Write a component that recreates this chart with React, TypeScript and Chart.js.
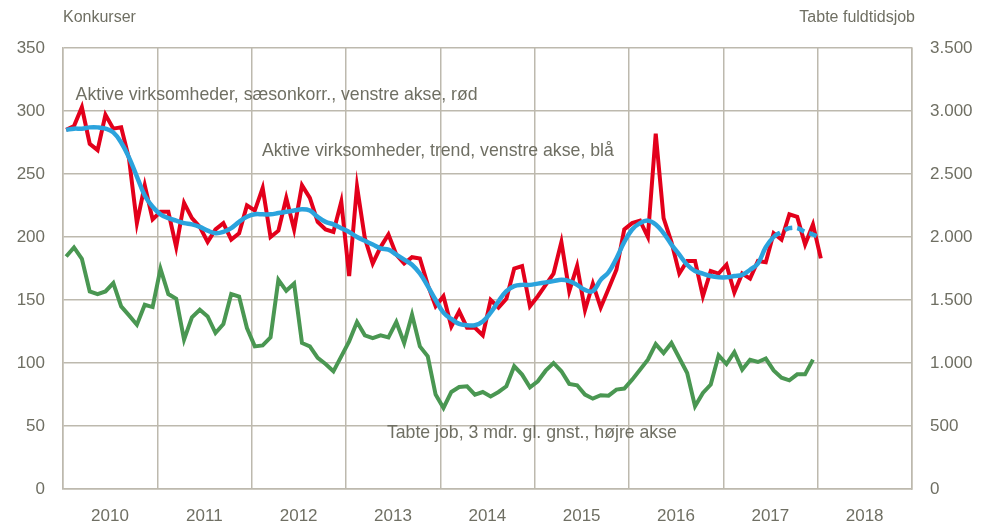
import React, { useEffect, useRef } from 'react';
import { Chart, registerables } from 'chart.js';

Chart.register(...registerables);

const years = ['2010', '2011', '2012', '2013', '2014', '2015', '2016', '2017', '2018'];
const leftTickValues = [0, 50, 100, 150, 200, 250, 300, 350];

// Aktive virksomheder, sæsonkorr. (monthly from Jan 2010)
const redValues = [
  285, 288, 303, 274, 269, 297, 286, 287, 262, 211, 241, 214,
  220, 220, 192, 227, 215, 208, 196, 206, 211, 198, 203, 225,
  221, 239, 200, 205, 231, 206, 241, 231, 212, 206, 204, 228,
  169, 240, 199, 179, 192, 202, 186, 179, 184, 183, 162, 145,
  153, 129, 141, 128, 128, 122, 150, 144, 151, 175, 177, 145,
  153, 162, 171, 196, 157, 177, 142, 163, 144, 159, 174, 206,
  211, 213, 200, 282, 215, 196, 171, 181, 181, 153, 173, 171,
  178, 156, 171, 167, 181, 180, 203, 198, 218, 216, 194, 210,
  183,
];

// Aktive virksomheder, trend
const blueValues = [
  285, 286, 286, 287, 287, 286, 283, 275, 263, 248, 233, 224,
  218, 215, 213, 211, 210, 208, 205, 203, 204, 207, 212, 216,
  218, 218, 218, 219, 220, 221, 222, 221, 216, 212, 210, 207,
  204, 200, 197, 194, 191, 190, 186, 182, 178, 171, 161, 150,
  140, 135, 131, 130, 130, 133, 140, 149, 157, 161, 162, 162,
  163, 164, 165, 166, 165, 162, 158, 157, 166, 172, 183, 196,
  206, 211, 213, 210, 203, 194, 186, 178, 173, 171, 169, 168,
  168, 169, 170, 174, 179, 192, 200, 204, 207, 207, 204, 202,
  199,
];
const trendDashFrom = 90;

// Tabte job, 3 mdr. gl. gnst. (right axis)
const greenValues = [
  1845, 1917, 1827, 1568, 1547, 1568, 1634, 1449, 1378, 1304, 1462, 1444,
  1748, 1547, 1510, 1185, 1362, 1423, 1370, 1238, 1309, 1547, 1528, 1277,
  1132, 1140, 1203, 1660, 1573, 1630, 1159, 1132, 1040, 992, 934, 1053,
  1172, 1325, 1220, 1198, 1220, 1203, 1325, 1159, 1384, 1132, 1053, 749,
  643, 770, 809, 815, 749, 770, 735, 770, 815, 974, 908, 807,
  855, 939, 1000, 934, 834, 823, 749, 717, 744, 741, 789, 797,
  868, 947, 1026, 1150, 1079, 1159, 1040, 921, 657, 763, 829, 1061,
  992, 1087, 947, 1026, 1008, 1035, 941, 883, 862, 910, 910, 1027,
];

const monthOffset = 0.4;
const TEXT = '#6f6f63';
const GRID = '#bdb9ae';
const FONT = '"Liberation Sans", Arial, sans-serif';

const toPoints = (vals: number[]) => vals.map((v, i) => ({ x: i + monthOffset, y: v }));
const fmtThousands = (v: number) =>
  v >= 1000 ? `${Math.floor(v / 1000)}.${String(v % 1000).padStart(3, '0')}` : String(v);

const labelsPlugin = {
  id: 'textLabels',
  afterDraw(chart: any) {
    const { ctx, chartArea } = chart;
    const x = chart.scales.x;
    const y = chart.scales.y;
    ctx.save();
    ctx.fillStyle = TEXT;
    ctx.textBaseline = 'middle';
    ctx.font = `16px ${FONT}`;
    ctx.textAlign = 'left';
    ctx.fillText('Konkurser', chartArea.left, 18);
    ctx.textAlign = 'right';
    ctx.fillText('Tabte fuldtidsjob', chartArea.right + 3, 18);
    ctx.font = `17.7px ${FONT}`;
    ctx.textAlign = 'left';
    ctx.fillText('Aktive virksomheder, sæsonkorr., venstre akse, rød', x.getPixelForValue(1.6), y.getPixelForValue(313));
    ctx.fillText('Aktive virksomheder, trend, venstre akse, blå', x.getPixelForValue(25.3), y.getPixelForValue(268));
    ctx.fillText('Tabte job, 3 mdr. gl. gnst., højre akse', x.getPixelForValue(41.2), y.getPixelForValue(44));
    ctx.restore();
  },
};

export default function App() {
  const canvasRef = useRef<HTMLCanvasElement | null>(null);

  useEffect(() => {
    document.body.style.margin = '0';
    const canvas = canvasRef.current;
    if (!canvas) return;
    const chart = new Chart(canvas, {
      type: 'line',
      data: {
        datasets: [
          {
            label: 'trend',
            data: toPoints(blueValues),
            borderColor: '#2ba3dd',
            borderWidth: 4.5,
            pointRadius: 0,
            tension: 0.4,
            yAxisID: 'y',
            segment: {
              borderDash: (ctx: any) => (ctx.p0DataIndex >= trendDashFrom ? [8, 5] : undefined),
            },
          },
          {
            label: 'saeson',
            data: toPoints(redValues),
            borderColor: '#e3001b',
            borderWidth: 4,
            pointRadius: 0,
            tension: 0,
            yAxisID: 'y',
          },
          {
            label: 'tabte job',
            data: toPoints(greenValues),
            borderColor: '#4a9752',
            borderWidth: 4,
            pointRadius: 0,
            tension: 0,
            yAxisID: 'y1',
          },
        ],
      },
      options: {
        animation: false,
        responsive: false,
        maintainAspectRatio: false,
        layout: { padding: { top: 48, left: 0, right: 0, bottom: 0 } },
        plugins: { legend: { display: false }, tooltip: { enabled: false } },
        scales: {
          x: {
            type: 'linear',
            min: 0,
            max: years.length * 12,
            afterBuildTicks: (axis: any) => {
              axis.ticks = Array.from({ length: years.length + 1 }, (_, i) => ({ value: i * 12 }));
            },
            afterFit: (axis: any) => {
              axis.height = 36;
            },
            grid: { color: GRID, lineWidth: 1.5, drawTicks: false },
            border: { color: GRID, width: 1.5 },
            ticks: {
              autoSkip: false,
              maxRotation: 0,
              padding: 17,
              labelOffset: 47,
              color: TEXT,
              font: { family: FONT, size: 17 },
              callback: (v: any) => {
                const idx = Math.round(Number(v) / 12);
                return idx < years.length ? years[idx] : '';
              },
            },
          },
          y: {
            position: 'left',
            min: 0,
            max: 350,
            afterBuildTicks: (axis: any) => {
              axis.ticks = leftTickValues.map((v) => ({ value: v }));
            },
            afterFit: (axis: any) => {
              axis.width = 63;
            },
            grid: { color: GRID, lineWidth: 1.5, drawTicks: false },
            border: { color: GRID, width: 1.5 },
            ticks: { padding: 18, color: TEXT, font: { family: FONT, size: 17 } },
          },
          y1: {
            position: 'right',
            min: 0,
            max: 3500,
            afterBuildTicks: (axis: any) => {
              axis.ticks = leftTickValues.map((v) => ({ value: v * 10 }));
            },
            afterFit: (axis: any) => {
              axis.width = 75;
            },
            grid: { drawOnChartArea: false, drawTicks: false },
            border: { display: true, color: GRID, width: 1.5 },
            ticks: {
              padding: 18,
              color: TEXT,
              font: { family: FONT, size: 17 },
              callback: (v: any) => fmtThousands(Number(v)),
            },
          },
        },
      },
      plugins: [labelsPlugin],
    });
    return () => chart.destroy();
  }, []);

  return (
    <div style={{ width: 987, height: 525, position: 'relative', background: '#fff' }}>
      <canvas ref={canvasRef} width={987} height={525} style={{ display: 'block' }} />
    </div>
  );
}
